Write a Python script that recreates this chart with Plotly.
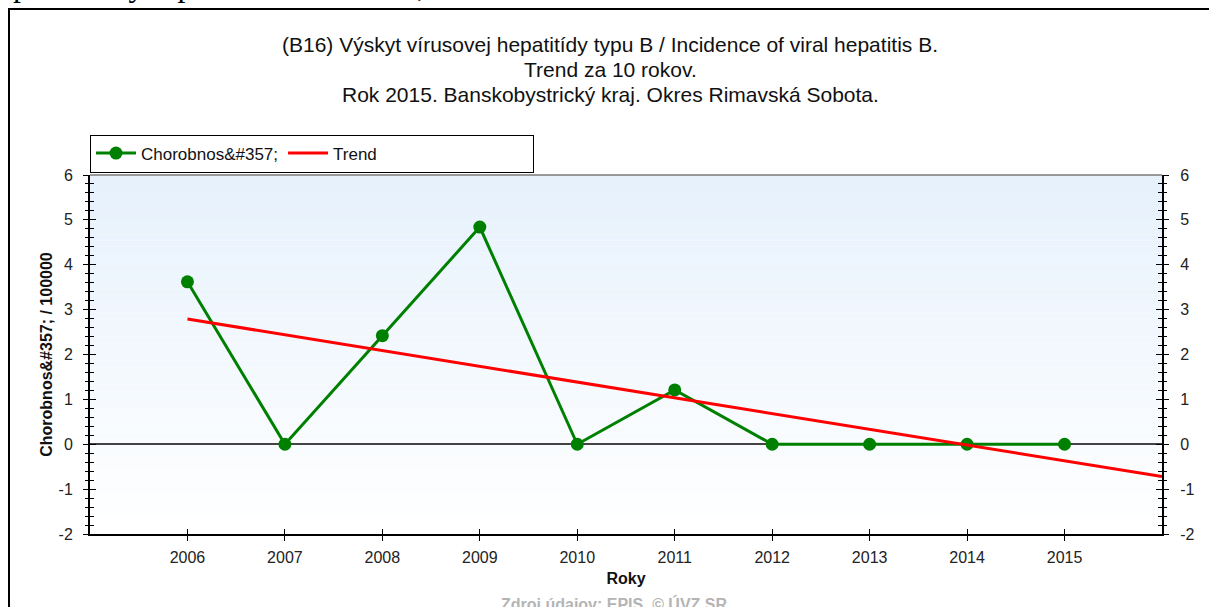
import plotly.graph_objects as go

# ---- data ----
years = [2006, 2007, 2008, 2009, 2010, 2011, 2012, 2013, 2014, 2015]
incidence = [3.62, 0.0, 2.42, 4.84, 0.0, 1.21, 0.0, 0.0, 0.0, 0.0]
trend_years = [2006, 2016]
trend_values = [2.79, -0.72]
x_ticks = [2006, 2007, 2008, 2009, 2010, 2011, 2012, 2013, 2014, 2015]
y_ticks = [-2, -1, 0, 1, 2, 3, 4, 5, 6]
y_ticklabels = ["-2", "-1", "0", "1", "2", "3", "4", "5", "6"]

title_lines = [
    "(B16) Výskyt vírusovej hepatitídy typu B / Incidence of viral hepatitis B.",
    "Trend za 10 rokov.",
    "Rok 2015. Banskobystrický kraj. Okres Rimavská Sobota.",
]
series_name = "Chorobnos&amp;#357;"
trend_name = "Trend"
y_title = "Chorobnos&amp;#357; / 100000"
x_title = "Roky"
source_text = "Zdroj údajov: EPIS, © ÚVZ SR"
top_text = "priemerným počtom ochorení 0,2."

W, H = 1209, 607
L, R, T, B = 90, 1162, 175, 534
FONT = "Liberation Sans, Arial, sans-serif"


def px_x(p):
    return (p - L) / (R - L)


def px_y(p):
    return (B - p) / (B - T)


fig = go.Figure()

fig.add_trace(go.Scatter(
    x=years, y=incidence, name=series_name, mode="lines+markers",
    line=dict(color="#008000", width=3),
    marker=dict(color="#008000", size=13, symbol="circle"),
))
fig.add_trace(go.Scatter(
    x=trend_years, y=trend_values, name=trend_name + "\u00a0" * 32, mode="lines",
    line=dict(color="#ff0000", width=3),
))
# empty traces so the overlay axes (used for crossing ticks) get drawn
for xa, ya in [("x2", "y2"), ("x2", "y3"), ("x", "y4")]:
    fig.add_trace(go.Scatter(x=[], y=[], xaxis=xa, yaxis=ya, showlegend=False, hoverinfo="skip"))

# gradient background
n = 60
top_c = (230, 241, 252)
for i in range(n):
    f = i / (n - 1)
    c = tuple(round(top_c[k] + (255 - top_c[k]) * f) for k in range(3))
    fig.add_shape(type="rect", xref="x domain", yref="y domain",
                  x0=0, x1=1, y0=1 - (i + 1) / n, y1=1 - i / n,
                  fillcolor="rgb(%d,%d,%d)" % c, line=dict(width=0), layer="below")

# top border of plot area
fig.add_shape(type="line", xref="x domain", yref="y domain", x0=0, x1=1, y0=1, y1=1,
              line=dict(color="#7a7a7a", width=1.5))
# outer frame
fig.add_shape(type="rect", xref="paper", yref="paper",
              x0=px_x(9), x1=px_x(1230), y0=px_y(630), y1=px_y(9),
              line=dict(color="black", width=2), layer="below")

tickfont = dict(family=FONT, size=16, color="#222")
axis_common = dict(showgrid=False, tickcolor="black", tickwidth=1.3, tickfont=tickfont)
minor_out = dict(ticks="outside", ticklen=3, dtick=0.2, tick0=0, tickcolor="black", tickwidth=1.2)
minor_in = dict(ticks="inside", ticklen=4, dtick=0.2, tick0=0, tickcolor="black", tickwidth=1.2)

fig.update_layout(
    width=W, height=H,
    margin=dict(l=L, r=W - R, t=T, b=H - B, pad=0, autoexpand=False),
    paper_bgcolor="white", plot_bgcolor="white",
    font=dict(family=FONT, color="#111"),
    showlegend=True,
    legend=dict(orientation="h", x=0, xanchor="left", y=px_y(153.5), yanchor="middle",
                bordercolor="black", borderwidth=1, bgcolor="white",
                font=dict(family=FONT, size=17, color="#111"),
                itemwidth=40, tracegroupgap=0),
    xaxis=dict(range=[2005, 2016], tickvals=x_ticks, ticks="outside", ticklen=5,
               showline=True, linecolor="black", linewidth=2, zeroline=False,
               title=dict(text="<b>" + x_title + "</b>", font=dict(family=FONT, size=16, color="#111"), standoff=8),
               ticklabelstandoff=3,
               **axis_common),
    xaxis2=dict(range=[2005, 2016], tickvals=x_ticks, ticks="inside", ticklen=5,
                overlaying="x", anchor="y", side="bottom", showticklabels=False,
                showline=False, zeroline=False, **axis_common),
    yaxis=dict(range=[-2, 6], tickvals=y_ticks, ticktext=y_ticklabels, ticks="outside", ticklen=5,
               minor=minor_out,
               showline=True, linecolor="black", linewidth=2,
               zeroline=True, zerolinecolor="#444", zerolinewidth=1.5,
               ticklabelstandoff=7,
               title=dict(text="<b>" + y_title + "</b>", font=dict(family=FONT, size=16, color="#111"), standoff=2),
               **axis_common),
    yaxis2=dict(range=[-2, 6], tickvals=y_ticks, ticktext=y_ticklabels, ticks="outside", ticklen=5,
                minor=minor_out,
                overlaying="y", side="right", anchor="x2",
                showline=True, linecolor="black", linewidth=2, zeroline=False,
                ticklabelstandoff=8, **axis_common),
    yaxis3=dict(range=[-2, 6], tickvals=y_ticks, ticks="inside", ticklen=6,
                minor=minor_in,
                overlaying="y", side="right", anchor="x2", showticklabels=False,
                showline=False, zeroline=False, **axis_common),
    yaxis4=dict(range=[-2, 6], tickvals=y_ticks, ticks="inside", ticklen=6,
                minor=minor_in,
                overlaying="y", side="left", anchor="x", showticklabels=False,
                showline=False, zeroline=False, **axis_common),
)

ann = []
for text, yc in zip(title_lines, [45, 69.5, 94]):
    ann.append(dict(text=text, xref="paper", yref="paper", x=px_x(610), y=px_y(yc),
                    xanchor="center", yanchor="middle", showarrow=False,
                    font=dict(family=FONT, size=21, color="#111")))
ann.append(dict(text="<b>" + source_text + "</b>", xref="paper", yref="paper",
                x=px_x(614), y=px_y(604), xanchor="center", yanchor="middle", showarrow=False,
                font=dict(family=FONT, size=16, color="#b4b4b4")))
ann.append(dict(text=top_text, xref="paper", yref="paper", x=px_x(11), y=px_y(4.5),
                xanchor="left", yanchor="bottom", showarrow=False,
                font=dict(family="Liberation Serif, Times New Roman, serif", size=32, color="black")))
fig.update_layout(annotations=ann)

fig.write_html("out.html", config={"displayModeBar": False},
               post_script="document.body.style.margin='0';document.body.style.overflow='hidden';")
